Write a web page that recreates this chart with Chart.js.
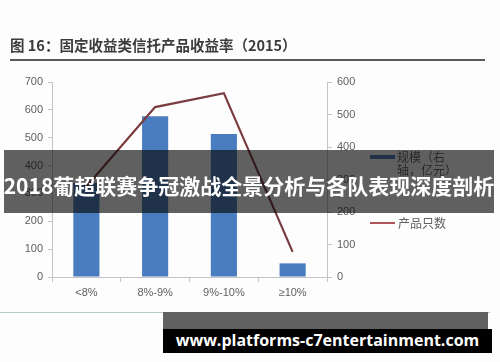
<!DOCTYPE html>
<html>
<head>
<meta charset="utf-8">
<script src="https://cdn.jsdelivr.net/npm/chart.js@4/dist/chart.umd.min.js"></script>
<style>
  html, body { margin: 0; padding: 0; background: #fdfdfd; }
  #wrap { position: relative; width: 500px; height: 362px; overflow: hidden; background: #fdfdfd; }
  canvas { position: absolute; left: 0; top: 0; }
  .abs { position: absolute; white-space: nowrap; }
  #title { left: 10px; top: 36px; font: 700 14.5px "Noto Sans CJK SC", sans-serif; color: #3c3c3c; line-height: 18px; }
  #rule { left: 10px; top: 59px; width: 475px; height: 2px; background: #5a5a5a; }
  .leg { font: 12px "Noto Sans CJK SC", sans-serif; color: #606060; line-height: 13px; }
  #banner { left: 4px; top: 150px; width: 490px; height: 63px; background: rgba(8,8,8,0.64); }
  #bannerText { left: 0px; top: 170px; width: 498px; height: 28px; line-height: 28px; text-align: center;
    font: 700 21px "Noto Sans CJK SC", sans-serif; color: #ffffff; }
  #frameLine { left: 0; top: 312px; width: 490px; height: 1px; background: #b9c9c9; }
  #wmGray { left: 163px; top: 312px; width: 325px; height: 17px; background: #616161; }
  #wmBlack { left: 163px; top: 329px; width: 329px; height: 24px; background: #000; }
  #wmText { left: 163px; top: 329px; width: 329px; height: 24px; line-height: 24px; text-align: center;
    font: 700 16px "Open Sans", sans-serif; color: #fff; }
</style>
</head>
<body>
<div id="wrap">
  <canvas id="c" width="500" height="362"></canvas>
  <div class="abs" id="title">图 16：固定收益类信托产品收益率（2015）</div>
  <div class="abs" id="rule"></div>
  <div class="abs" style="left:370px;top:155px;width:25px;height:4px;background:#4a7dbf;"></div>
  <div class="abs leg" style="left:397px;top:150px;">规模（右<br>轴，亿元）</div>
  <div class="abs" style="left:370px;top:222px;width:25px;height:2px;background:#b0555a;"></div>
  <div class="abs leg" style="left:398px;top:216px;">产品只数</div>
  <div class="abs" id="banner"></div>
  <div class="abs" id="bannerText">2018葡超联赛争冠激战全景分析与各队表现深度剖析</div>
  <div class="abs" id="frameLine"></div>
  <div class="abs" id="wmGray"></div>
  <div class="abs" id="wmBlack"></div>
  <div class="abs" id="wmText">www.platforms-c7entertainment.com</div>
</div>
<script>
const categories = ['<8%', '8%-9%', '9%-10%', '≥10%'];
const scaleValues = [290, 495, 440, 42];      // 规模（右轴，亿元）
const productCounts = [325, 610, 660, 90];    // 产品只数（左轴）
const leftTicks = [0, 100, 200, 300, 400, 500, 600, 700];
const rightTicks = [0, 100, 200, 300, 400, 500, 600];

const tickFont = { family: 'Liberation Sans', size: 11 };
const tickColor = '#5f5f5f';
const axisColor = '#c4c4c4';

new Chart(document.getElementById('c'), {
  type: 'bar',
  data: {
    labels: categories,
    datasets: [
      {
        type: 'line',
        label: '产品只数',
        data: productCounts,
        yAxisID: 'yL',
        borderColor: '#7a3b3f',
        borderWidth: 2.2,
        pointRadius: 0,
        tension: 0,
        fill: false
      },
      {
        type: 'bar',
        label: '规模（右轴，亿元）',
        data: scaleValues,
        yAxisID: 'yR',
        backgroundColor: '#4a7dbf',
        categoryPercentage: 1,
        barPercentage: 0.38
      }
    ]
  },
  options: {
    responsive: false,
    animation: false,
    devicePixelRatio: 1,
    layout: { padding: { top: 82, left: 0, right: 0, bottom: 0 } },
    plugins: { legend: { display: false }, tooltip: { enabled: false }, title: { display: false } },
    scales: {
      x: {
        grid: { display: true, drawOnChartArea: false, drawTicks: true, tickLength: 5, offset: true, color: axisColor },
        border: { display: true, color: axisColor },
        ticks: { font: tickFont, color: tickColor, padding: 4, maxRotation: 0 },
        afterFit: (s) => { s.height = 85; }
      },
      yL: {
        position: 'left',
        min: 0, max: 700,
        afterBuildTicks: (s) => { s.ticks = leftTicks.map(v => ({ value: v })); },
        grid: { display: true, drawOnChartArea: false, drawTicks: true, tickLength: 4, color: axisColor },
        border: { display: true, color: axisColor },
        ticks: { font: tickFont, color: tickColor, padding: 5 },
        afterFit: (s) => { s.width = 52; }
      },
      yR: {
        position: 'right',
        min: 0, max: 600,
        afterBuildTicks: (s) => { s.ticks = rightTicks.map(v => ({ value: v })); },
        grid: { display: true, drawOnChartArea: false, drawTicks: true, tickLength: 5, color: axisColor },
        border: { display: true, color: axisColor },
        ticks: { font: tickFont, color: tickColor, padding: 5 },
        afterFit: (s) => { s.width = 173; }
      }
    }
  }
});
</script>
</body>
</html>
